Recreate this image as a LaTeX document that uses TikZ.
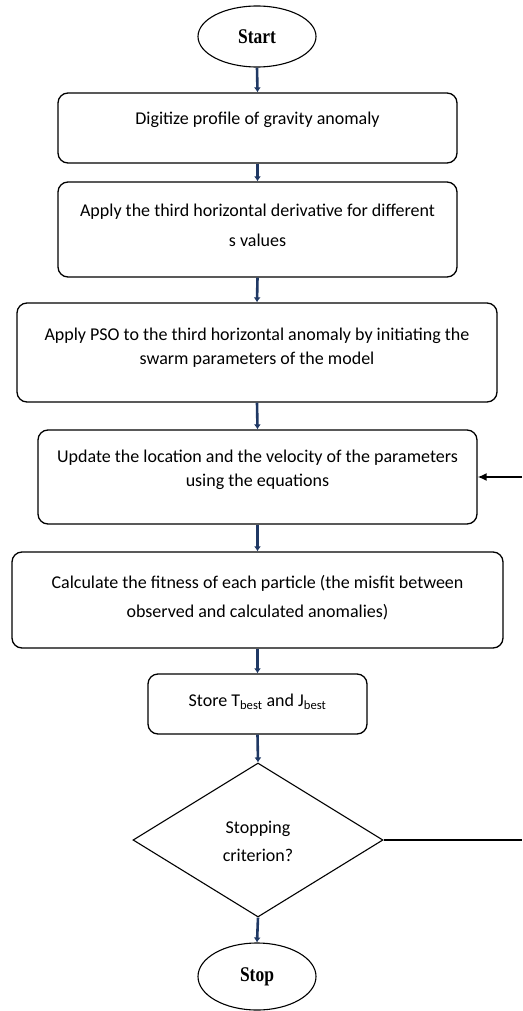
\documentclass[tikz,border=0pt]{standalone}
\usepackage{fontspec}
\setmainfont{Carlito}
\newfontfamily\termfont{Liberation Serif}
\usetikzlibrary{shapes.geometric,arrows.meta}
\definecolor{navy}{HTML}{1F3864}
\tikzset{
  box/.style={draw=black, line width=1.3pt, rounded corners=10pt, inner sep=0pt},
  term/.style={draw=black, line width=1.1pt, ellipse, inner sep=0pt, font=\termfont\bfseries\fontsize{19}{22}\selectfont},
  txt/.style={align=center, font=\fontsize{18}{24}\selectfont, inner sep=0pt},
  flow/.style={draw=navy, line width=2.6pt, -{Latex[length=5pt,width=7pt]}},
  back/.style={draw=black, line width=1.6pt}
}
\begin{document}
\begin{tikzpicture}[x=1pt,y=-1pt]
\useasboundingbox (0,0) rectangle (522,1011);
\node[term, minimum width=118pt, minimum height=61pt] (start) at (257,36.5) {\scalebox{0.92}[1.1]{Start}};
\node[box, minimum width=399pt, minimum height=70pt] (b1) at (257.5,128) {};
\node[txt] (t1) at (257.5,120) {Digitize profile of gravity anomaly};
\node[box, minimum width=399pt, minimum height=95pt] (b2) at (257.5,229.5) {};
\node[txt, font=\fontsize{18}{30}\selectfont] (t2) at (257.5,225) {Apply the third horizontal derivative for different\\s values};
\node[box, minimum width=480pt, minimum height=99pt] (b3) at (257,352.5) {};
\node[txt] (t3) at (257,348) {Apply PSO to the third horizontal anomaly by initiating the\\swarm parameters of the model};
\node[box, minimum width=439pt, minimum height=94pt] (b4) at (257.5,477) {};
\node[txt] (t4) at (257.5,470) {Update the location and the velocity of the parameters\\using the equations};
\node[box, minimum width=491pt, minimum height=96pt] (b5) at (257.5,600) {};
\node[txt, font=\fontsize{18}{29}\selectfont] (t5) at (257.5,597.5) {Calculate the fitness of each particle (the misfit between\\observed and calculated anomalies)};
\node[box, minimum width=219pt, minimum height=60pt] (b6) at (257.5,704) {};
\node[txt] (t6) at (257.5,702) {Store T\textsubscript{best} and J\textsubscript{best}};
\node[draw=black, line width=1.1pt, diamond, aspect=1.62, minimum width=250pt, minimum height=154pt, inner sep=0pt] (dia) at (258,840) {};
\node[txt, font=\fontsize{18}{28}\selectfont] (t7) at (258,841) {Stopping\\criterion?};
\node[term, minimum width=118pt, minimum height=67pt] (stop) at (257,976.5) {\scalebox{0.92}[1.1]{Stop}};
\draw[flow] (start.south) -- (b1.north);
\draw[flow] (b1.south) -- (b2.north);
\draw[flow] (b2.south) -- (b3.north);
\draw[flow] (b3.south) -- (b4.north);
\draw[flow] (b4.south) -- (b5.north);
\draw[flow] (b5.south) -- (b6.north);
\draw[flow] (b6.south) -- (dia.north);
\draw[flow] (dia.south) -- (stop.north);
\coordinate (e1) at (522,840);
\coordinate (e2) at (522,477);
\draw[back] (dia.east) -- (e1);
\draw[back, -{Latex[length=9pt,width=8pt]}] (e2) -- (b4.east);
\end{tikzpicture}
\end{document}
